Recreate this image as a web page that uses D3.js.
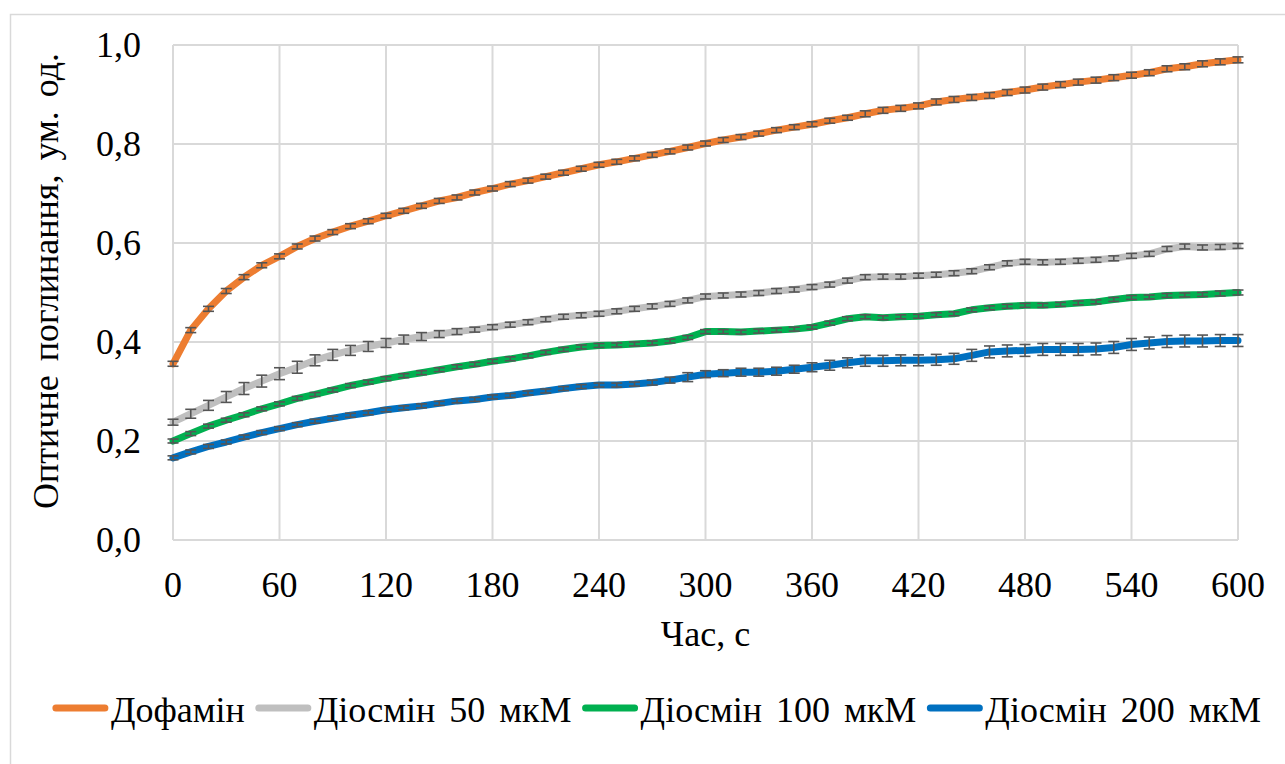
<!DOCTYPE html>
<html>
<head>
<meta charset="utf-8">
<script src="https://cdn.jsdelivr.net/npm/d3@7"></script>
</head>
<body style="margin:0">
<div id="chart"></div>
<script>
// time points, seconds
var times = d3.range(0, 601, 10);

var xTicks = [0, 60, 120, 180, 240, 300, 360, 420, 480, 540, 600];
var yTicks = [0, 0.2, 0.4, 0.6, 0.8, 1.0];

var seriesNames = ["Дофамін", "Діосмін 50 мкМ", "Діосмін 100 мкМ", "Діосмін 200 мкМ"];
var seriesColors = ["#ED7D31", "#BFBFBF", "#00B050", "#0070C0"];

var dopamine = [0.356, 0.424, 0.467, 0.503, 0.531, 0.555, 0.573, 0.593, 0.609, 0.622,
  0.634, 0.644, 0.655, 0.665, 0.675, 0.685, 0.692, 0.702, 0.710, 0.719,
  0.726, 0.734, 0.742, 0.750, 0.758, 0.764, 0.771, 0.778, 0.785, 0.793,
  0.801, 0.808, 0.814, 0.821, 0.828, 0.834, 0.840, 0.847, 0.853, 0.861,
  0.868, 0.872, 0.877, 0.885, 0.890, 0.894, 0.898, 0.904, 0.909, 0.915,
  0.920, 0.925, 0.929, 0.934, 0.939, 0.944, 0.952, 0.956, 0.962, 0.966, 0.970];

var dios50 = [0.238, 0.255, 0.272, 0.289, 0.306, 0.321, 0.336, 0.349, 0.363, 0.374,
  0.383, 0.391, 0.398, 0.405, 0.411, 0.416, 0.421, 0.425, 0.430, 0.435,
  0.440, 0.446, 0.451, 0.454, 0.457, 0.462, 0.467, 0.472, 0.477, 0.484,
  0.492, 0.494, 0.496, 0.499, 0.503, 0.506, 0.511, 0.516, 0.524, 0.531,
  0.532, 0.532, 0.534, 0.536, 0.539, 0.543, 0.551, 0.559, 0.562, 0.561,
  0.562, 0.564, 0.566, 0.569, 0.574, 0.578, 0.588, 0.593, 0.591, 0.592, 0.594];

var dios100 = [0.200, 0.215, 0.230, 0.242, 0.253, 0.265, 0.275, 0.286, 0.294, 0.303,
  0.312, 0.319, 0.326, 0.332, 0.338, 0.344, 0.350, 0.355, 0.361, 0.366,
  0.372, 0.379, 0.385, 0.390, 0.393, 0.394, 0.396, 0.398, 0.402, 0.409,
  0.421, 0.421, 0.420, 0.422, 0.424, 0.426, 0.430, 0.438, 0.447, 0.451,
  0.449, 0.451, 0.452, 0.455, 0.457, 0.465, 0.469, 0.472, 0.474, 0.474,
  0.476, 0.479, 0.481, 0.486, 0.490, 0.491, 0.494, 0.495, 0.496, 0.498, 0.500];

var dios200 = [0.166, 0.178, 0.189, 0.198, 0.208, 0.217, 0.225, 0.233, 0.240, 0.246,
  0.252, 0.257, 0.263, 0.267, 0.271, 0.276, 0.281, 0.284, 0.289, 0.292,
  0.297, 0.301, 0.306, 0.310, 0.313, 0.313, 0.315, 0.318, 0.323, 0.329,
  0.335, 0.337, 0.339, 0.339, 0.341, 0.345, 0.349, 0.353, 0.358, 0.362,
  0.362, 0.363, 0.363, 0.364, 0.366, 0.373, 0.380, 0.382, 0.383, 0.385,
  0.385, 0.385, 0.386, 0.389, 0.395, 0.398, 0.401, 0.402, 0.402, 0.403, 0.403];

// standard deviations (error bars)
var dopamineErr = [0.005, 0.005, 0.005, 0.005, 0.005, 0.005, 0.005, 0.005, 0.005, 0.005,
  0.005, 0.005, 0.005, 0.005, 0.005, 0.005, 0.005, 0.005, 0.005, 0.005,
  0.005, 0.005, 0.005, 0.005, 0.005, 0.005, 0.005, 0.005, 0.005, 0.005,
  0.005, 0.005, 0.005, 0.005, 0.005, 0.005, 0.005, 0.005, 0.005, 0.006,
  0.006, 0.006, 0.006, 0.006, 0.006, 0.006, 0.006, 0.006, 0.006, 0.006,
  0.006, 0.006, 0.006, 0.006, 0.006, 0.006, 0.006, 0.006, 0.006, 0.006, 0.006];

var dios50Err = [0.006, 0.009, 0.010, 0.011, 0.012, 0.012, 0.012, 0.012, 0.011, 0.011,
  0.010, 0.010, 0.009, 0.009, 0.008, 0.007, 0.006, 0.005, 0.005, 0.005,
  0.005, 0.005, 0.005, 0.005, 0.005, 0.005, 0.005, 0.005, 0.005, 0.005,
  0.005, 0.005, 0.005, 0.005, 0.005, 0.005, 0.005, 0.005, 0.005, 0.005,
  0.005, 0.005, 0.005, 0.005, 0.005, 0.005, 0.005, 0.005, 0.005, 0.005,
  0.005, 0.005, 0.005, 0.005, 0.005, 0.005, 0.005, 0.005, 0.005, 0.005, 0.005];

var dios100Err = [0.004, 0.004, 0.004, 0.004, 0.004, 0.004, 0.004, 0.004, 0.004, 0.004,
  0.004, 0.004, 0.004, 0.004, 0.004, 0.004, 0.004, 0.004, 0.004, 0.004,
  0.004, 0.004, 0.004, 0.004, 0.004, 0.004, 0.004, 0.004, 0.004, 0.004,
  0.004, 0.004, 0.004, 0.004, 0.004, 0.004, 0.004, 0.004, 0.004, 0.004,
  0.004, 0.004, 0.004, 0.004, 0.004, 0.004, 0.004, 0.004, 0.004, 0.004,
  0.004, 0.004, 0.004, 0.004, 0.004, 0.004, 0.004, 0.004, 0.004, 0.005, 0.005];

var dios200Err = [0.004, 0.004, 0.004, 0.004, 0.004, 0.004, 0.004, 0.004, 0.004, 0.004,
  0.004, 0.004, 0.004, 0.004, 0.004, 0.004, 0.004, 0.004, 0.004, 0.004,
  0.004, 0.004, 0.004, 0.004, 0.004, 0.004, 0.004, 0.005, 0.006, 0.009,
  0.007, 0.007, 0.008, 0.008, 0.008, 0.008, 0.009, 0.010, 0.010, 0.011,
  0.011, 0.011, 0.011, 0.011, 0.011, 0.012, 0.012, 0.012, 0.012, 0.012,
  0.012, 0.012, 0.012, 0.012, 0.012, 0.012, 0.012, 0.012, 0.012, 0.012, 0.012];

var allSeries = [dopamine, dios50, dios100, dios200];
var allErrors = [dopamineErr, dios50Err, dios100Err, dios200Err];

var W = 1285, H = 764;
var FONT = "Liberation Serif";

var svg = d3.select("#chart").append("svg")
  .attr("width", W)
  .attr("height", H)
  .attr("font-family", FONT)
  .attr("font-size", 36);

svg.append("rect")
  .attr("width", W).attr("height", H)
  .attr("fill", "#fff");

// chart area border
svg.append("rect")
  .attr("x", 10.5).attr("y", 14.5)
  .attr("width", W).attr("height", H)
  .attr("fill", "none")
  .attr("stroke", "#d9d9d9")
  .attr("stroke-width", 1.5);

var x = d3.scaleLinear().domain([0, 600]).range([173, 1238]);
var y = d3.scaleLinear().domain([0, 1]).range([540, 45]);

// gridlines
svg.append("g").selectAll("line.v")
  .data(xTicks).enter().append("line")
  .attr("x1", d => x(d)).attr("x2", d => x(d))
  .attr("y1", y(0)).attr("y2", y(1))
  .attr("stroke", "#d9d9d9").attr("stroke-width", 2);

svg.append("g").selectAll("line.h")
  .data(yTicks).enter().append("line")
  .attr("x1", x(0)).attr("x2", x(600))
  .attr("y1", d => y(d)).attr("y2", d => y(d))
  .attr("stroke", "#d9d9d9").attr("stroke-width", 2);

// tick labels from the scales
var fmt = d3.format(".1f");
svg.append("g").selectAll("text")
  .data(yTicks).enter().append("text")
  .attr("x", x(0) - 32)
  .attr("y", d => y(d) + 12)
  .attr("text-anchor", "end")
  .text(d => fmt(d).replace(".", ","));

svg.append("g").selectAll("text")
  .data(xTicks).enter().append("text")
  .attr("x", d => x(d))
  .attr("y", 597)
  .attr("text-anchor", "middle")
  .text(d => d);

// axis titles
svg.append("text")
  .attr("x", (x(0) + x(600)) / 2)
  .attr("y", 646)
  .attr("text-anchor", "middle")
  .text("Час, с");

svg.append("text")
  .attr("transform", "translate(58,281) rotate(-90)")
  .attr("text-anchor", "middle")
  .attr("word-spacing", 5)
  .text("Оптичне поглинання, ум. од.");

// lines + error bars
var line = d3.line()
  .x((d, i) => x(times[i]))
  .y(d => y(d));

allSeries.forEach(function (vals, k) {
  svg.append("path")
    .datum(vals)
    .attr("d", line)
    .attr("fill", "none")
    .attr("stroke", seriesColors[k])
    .attr("stroke-width", 7)
    .attr("stroke-linejoin", "round")
    .attr("stroke-linecap", "round");

  var errs = allErrors[k];
  var g = svg.append("g")
    .attr("stroke", "#555")
    .attr("stroke-width", 1.6);
  vals.forEach(function (v, i) {
    var cx = x(times[i]);
    var y1 = y(v + errs[i]), y2 = y(v - errs[i]);
    g.append("line").attr("x1", cx).attr("x2", cx).attr("y1", y1).attr("y2", y2);
    g.append("line").attr("x1", cx - 5.5).attr("x2", cx + 5.5).attr("y1", y1).attr("y2", y1);
    g.append("line").attr("x1", cx - 5.5).attr("x2", cx + 5.5).attr("y1", y2).attr("y2", y2);
  });
});

// legend
var legend = svg.append("g");
var lx = 0;
seriesNames.forEach(function (name, k) {
  var item = legend.append("g").attr("transform", "translate(" + lx + ",0)");
  item.append("line")
    .attr("x1", 3).attr("x2", 52)
    .attr("y1", 708).attr("y2", 708)
    .attr("stroke", seriesColors[k])
    .attr("stroke-width", 7)
    .attr("stroke-linecap", "round");
  var t = item.append("text")
    .attr("x", 58).attr("y", 722)
    .attr("word-spacing", 5)
    .text(name);
  lx += 58 + t.node().getBBox().width + 11;
});
var legendW = lx - 11;
legend.attr("transform", "translate(" + (657 - legendW / 2) + ",0)");
</script>
</body>
</html>
